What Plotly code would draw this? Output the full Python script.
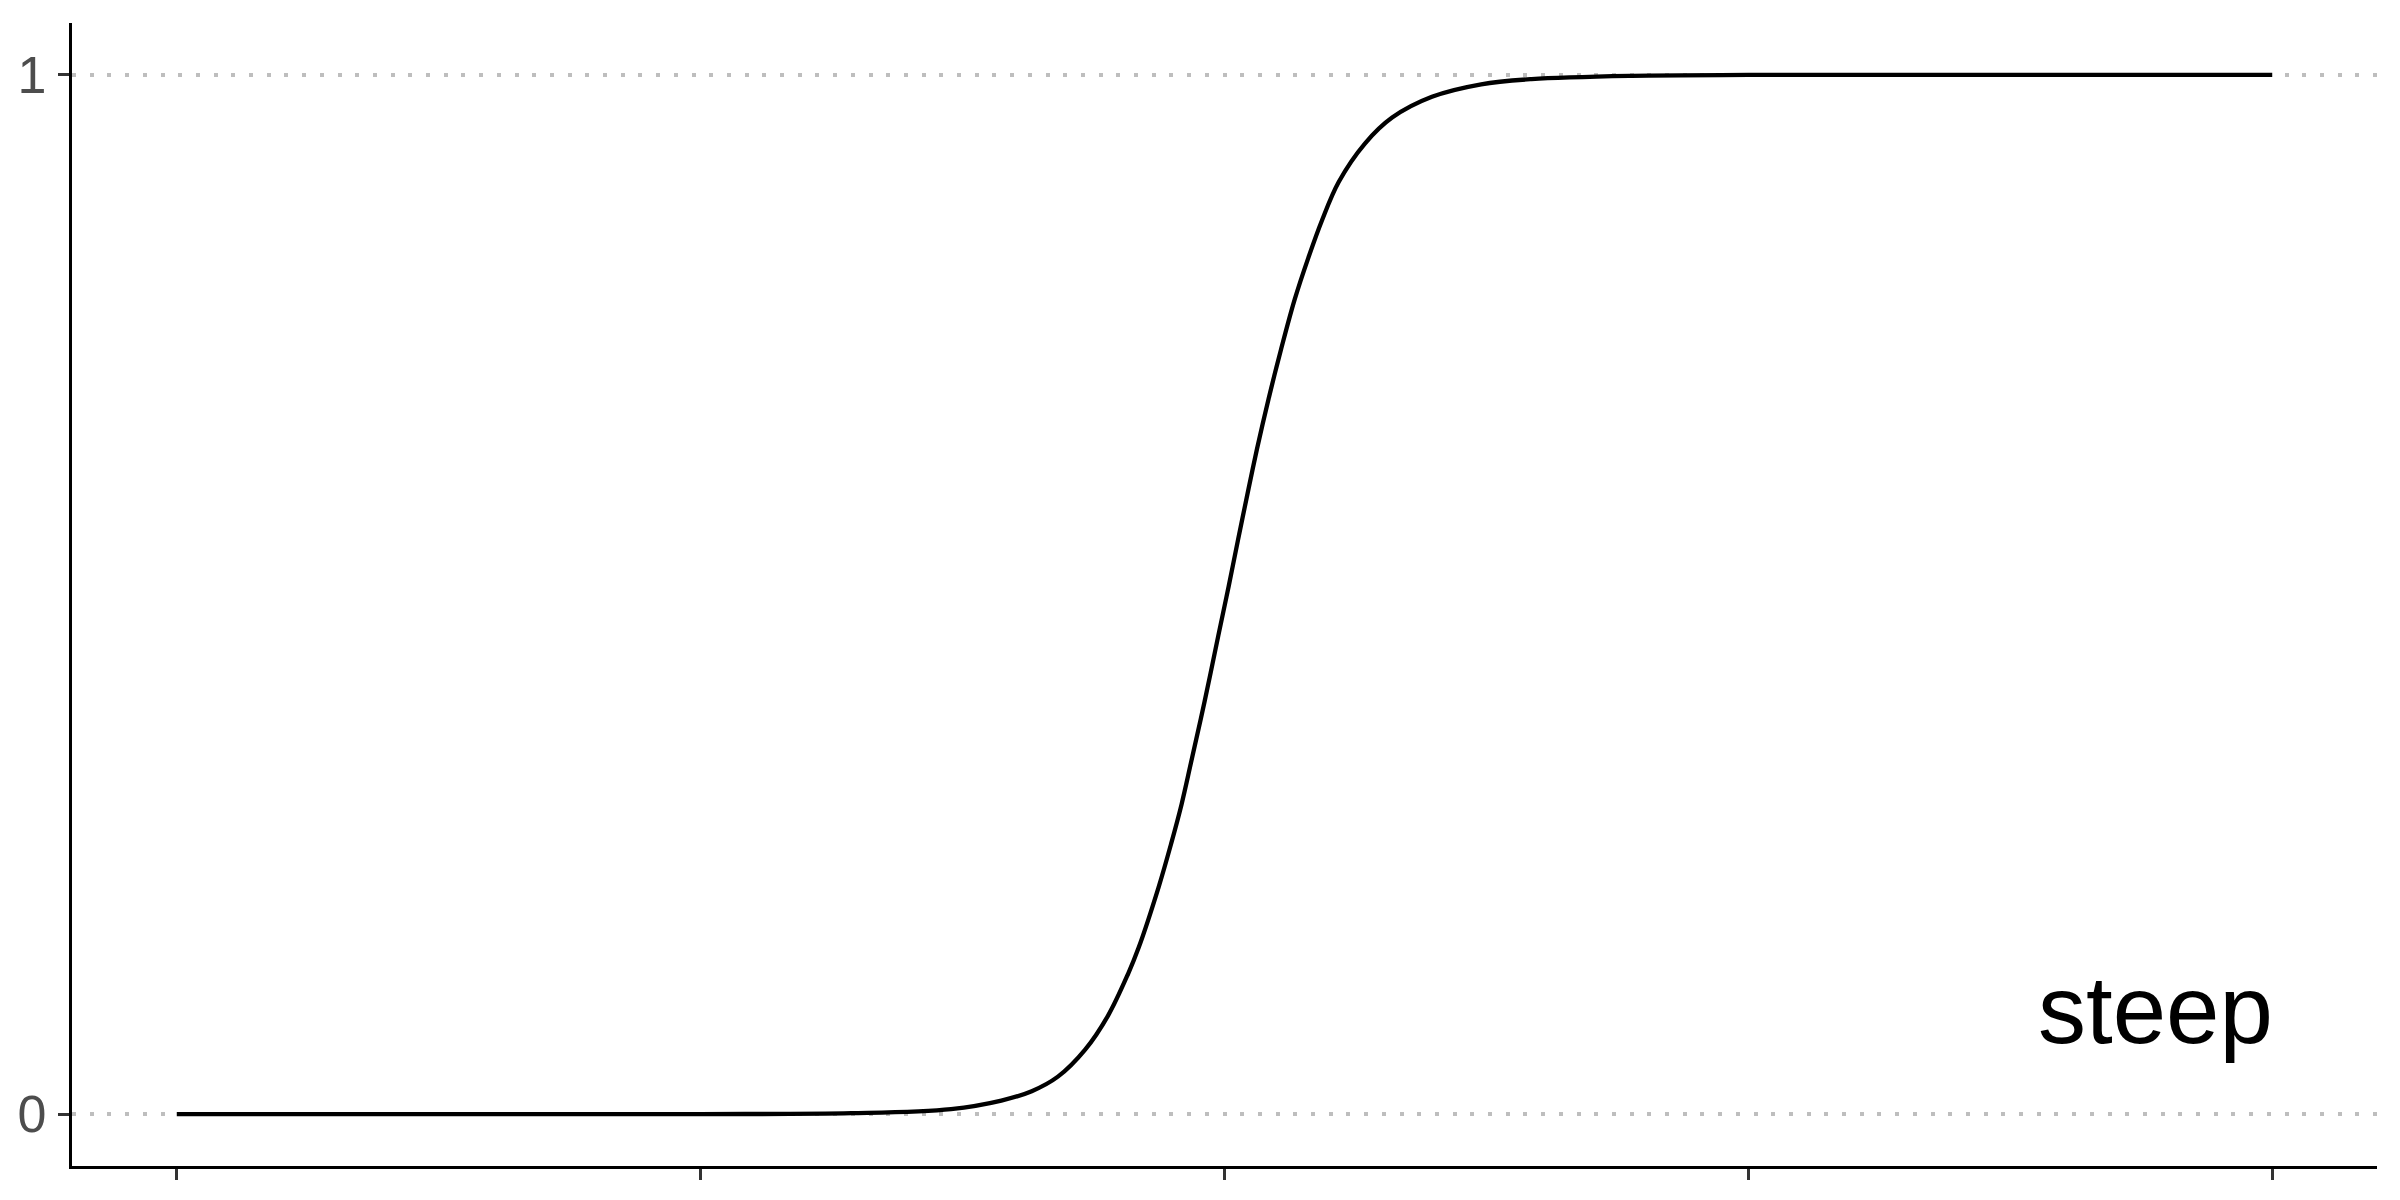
import plotly.graph_objects as go

# ----------------------------------------
# DATA
# ----------------------------------------
x_vals = [-1.0, -0.75, -0.5, -0.356, -0.261, -0.213, -0.184, -0.159, -0.133,
          -0.111, -0.092, -0.082, -0.063, -0.051, -0.041, -0.032, -0.019,
          -0.006, 0.004, 0.013, 0.023, 0.031, 0.042, 0.054, 0.067, 0.080,
          0.093, 0.109, 0.134, 0.160, 0.198, 0.245, 0.293, 0.389, 0.5, 0.75, 1.0]
y_vals = [0.0, 0.0, 0.0, 0.0008, 0.0048, 0.013, 0.022, 0.036, 0.062,
          0.095, 0.135, 0.160, 0.218, 0.260, 0.298, 0.338, 0.397,
          0.460, 0.508, 0.553, 0.602, 0.640, 0.688, 0.736, 0.784, 0.824,
          0.860, 0.897, 0.934, 0.959, 0.979, 0.991, 0.996, 0.9992, 1.0, 1.0, 1.0]

x_ticks = [-1, -0.5, 0, 0.5, 1]
y_ticks = [0, 1]
y_tick_labels = ["0", "1"]
label_text = "steep"

# the page body adds an 8px margin, so the figure is 16px smaller than the window
fig = go.Figure()
fig.add_trace(go.Scatter(
    x=x_vals, y=y_vals, mode="lines",
    line=dict(color="black", width=4.3, shape="spline", smoothing=1.0),
    showlegend=False, hoverinfo="skip",
))

fig.add_annotation(
    x=1.0, y=0.047, xref="x", yref="y", text=label_text, showarrow=False,
    xanchor="right", yanchor="bottom", xshift=3,
    font=dict(family="Liberation Sans, Arial, sans-serif", size=96, color="black"),
)

fig.update_xaxes(
    range=[-1.1, 1.1], tickvals=x_ticks, showticklabels=False,
    ticks="outside", ticklen=11, tickwidth=3.3, tickcolor="#333333",
    showline=True, linecolor="black", linewidth=3.4,
    showgrid=False, zeroline=False, automargin=False,
)
fig.update_yaxes(
    range=[-0.05, 1.05], tickvals=y_ticks, ticktext=y_tick_labels,
    ticks="outside", ticklen=11, tickwidth=3.3, tickcolor="#333333",
    tickfont=dict(family="Liberation Sans, Arial, sans-serif", size=52, color="#4D4D4D"),
    ticklabelstandoff=1,
    showline=True, linecolor="black", linewidth=3.4,
    showgrid=True, gridcolor="#BEBEBE", gridwidth=4, griddash="4px,13.7px",
    zeroline=False, automargin=False,
)

fig.update_layout(
    width=2384, height=1184,
    plot_bgcolor="white", paper_bgcolor="white",
    margin=dict(l=64, r=15, t=15, b=26),
)

fig.write_html("out.html")
